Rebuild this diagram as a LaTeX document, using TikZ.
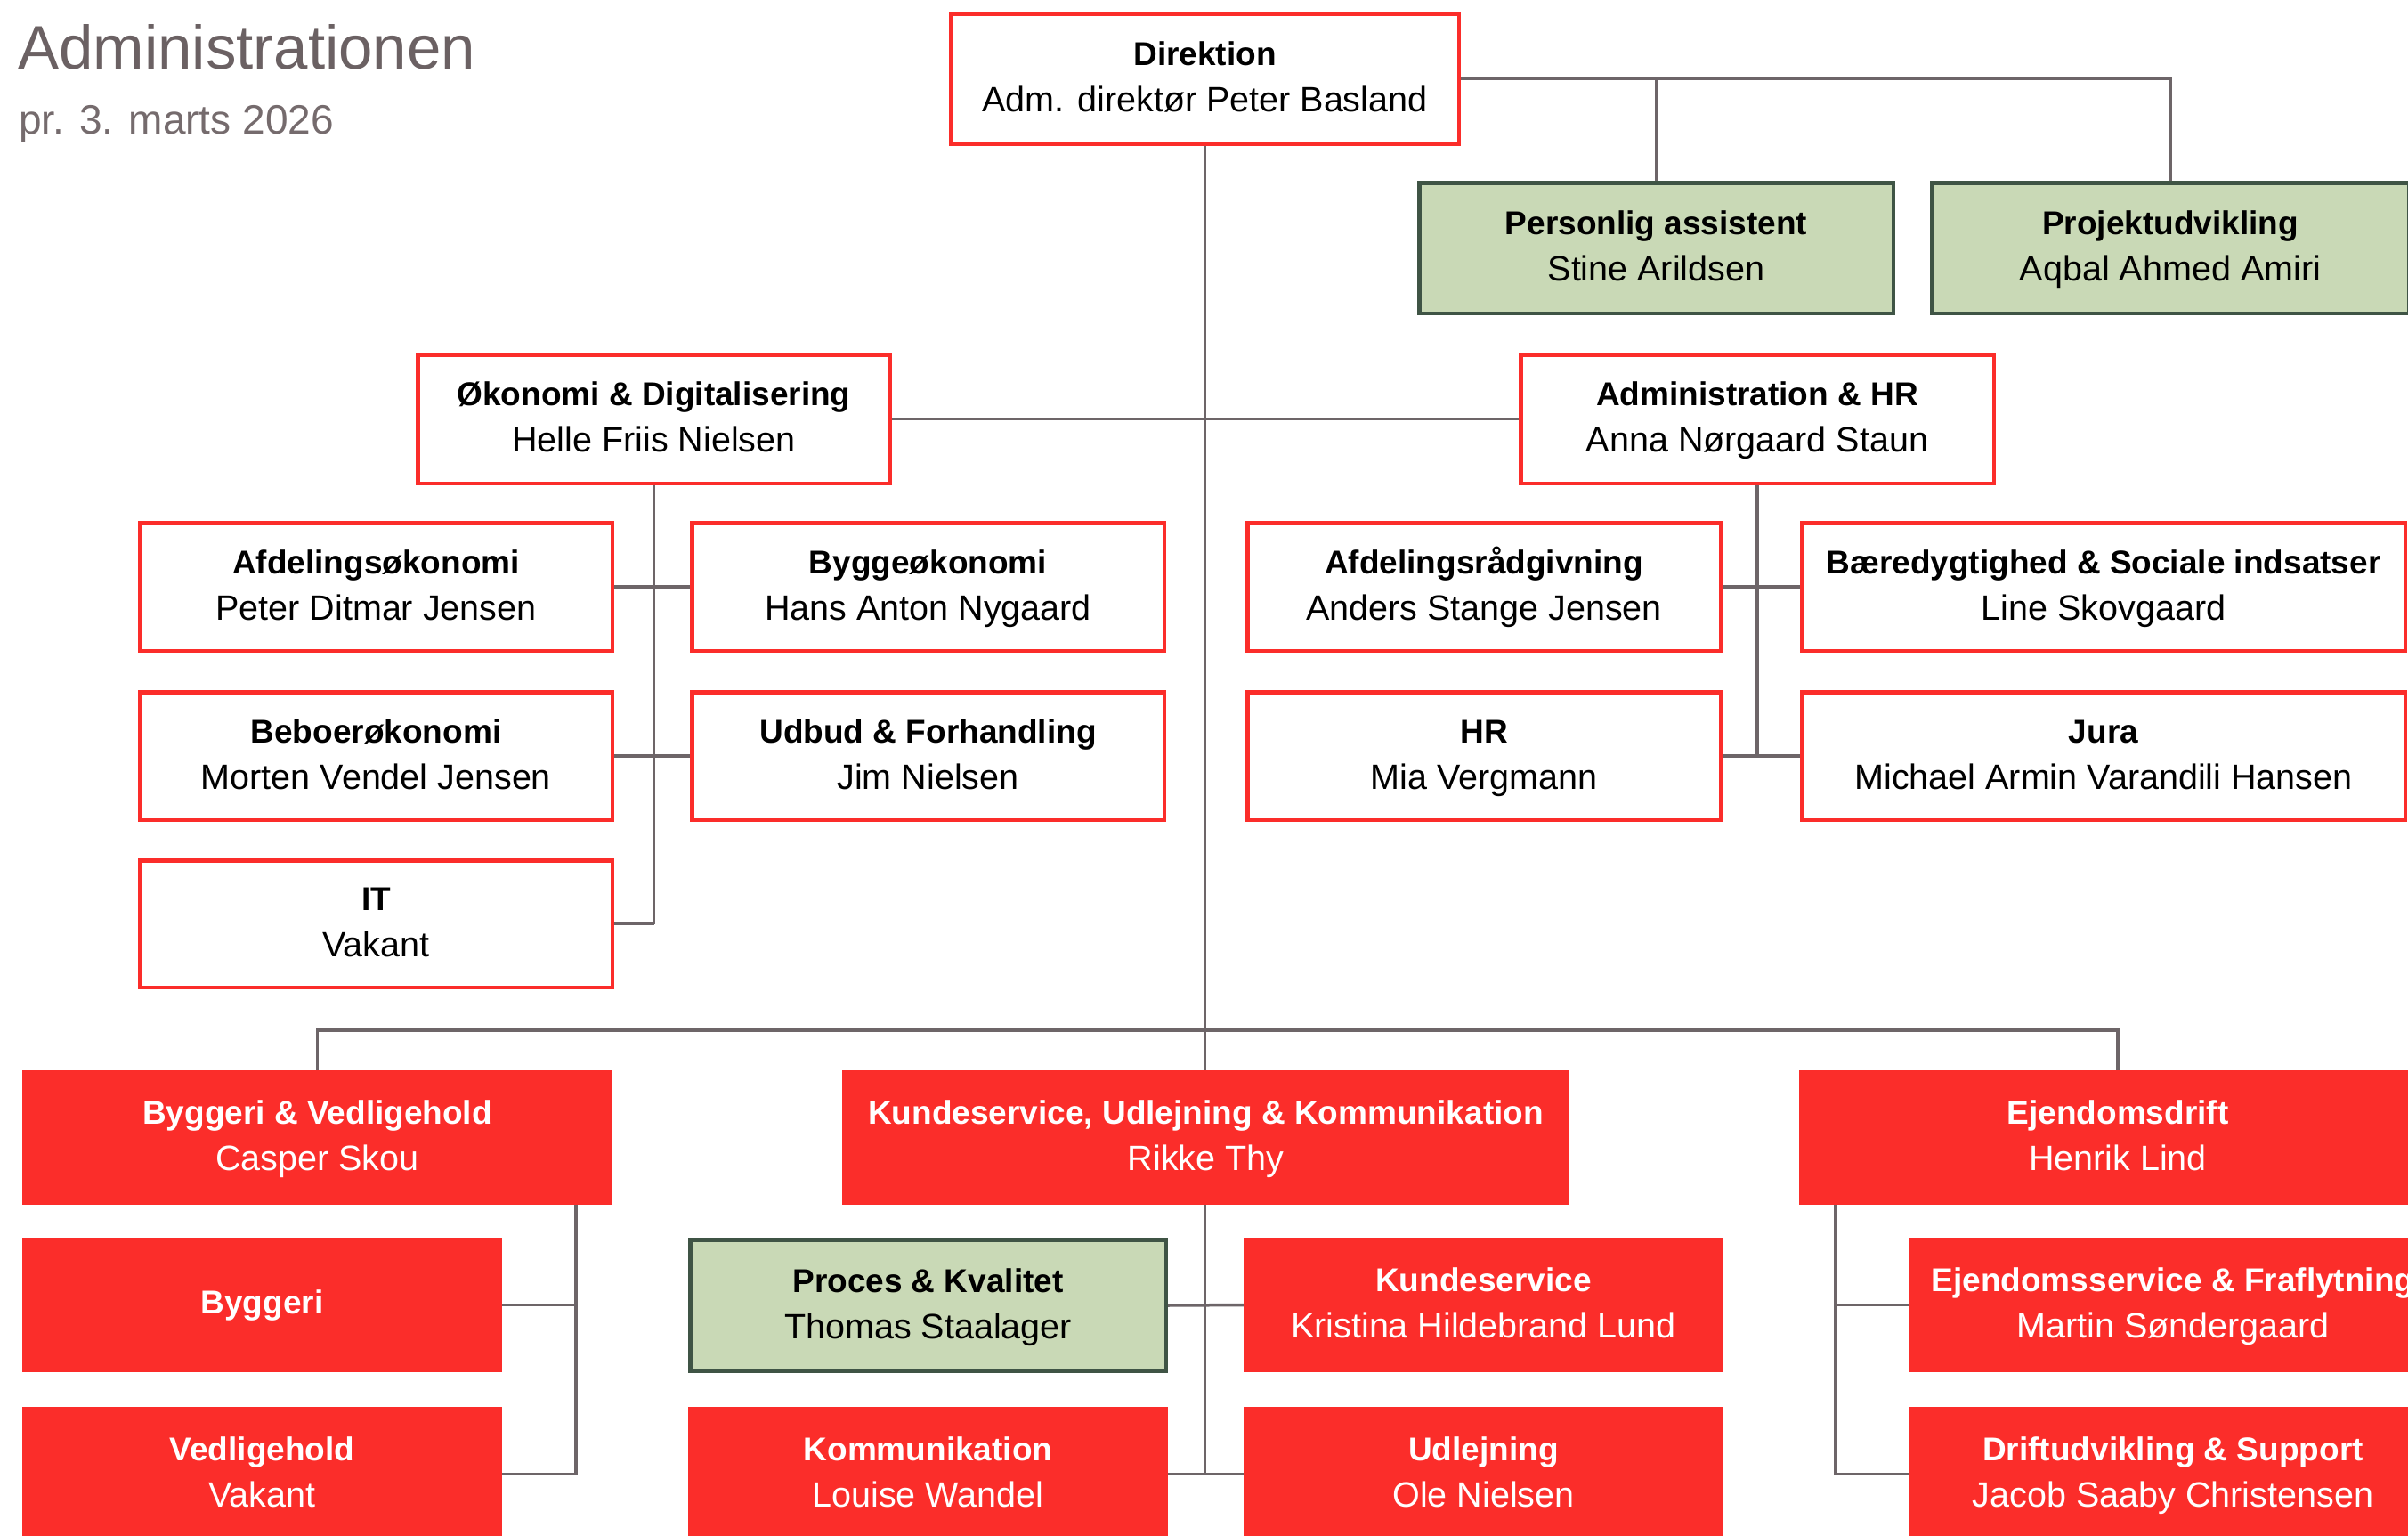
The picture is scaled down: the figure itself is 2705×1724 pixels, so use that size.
\documentclass[tikz,border=0pt]{standalone}
\usepackage{fontspec}
\setmainfont{Liberation Sans}
\usetikzlibrary{calc}
\pgfdeclarelayer{bg}
\pgfsetlayers{bg,main}
\definecolor{orgred}{HTML}{FB2D2A}
\definecolor{lineg}{HTML}{6D6568}
\definecolor{pale}{HTML}{C9D9B6}
\definecolor{darkg}{HTML}{3F5445}
\definecolor{titleg}{HTML}{6B6163}
\definecolor{subg}{HTML}{756B6D}
\tikzset{
  conn/.style={draw=lineg, line width=3.5pt},
  outlinebox/.style={draw=orgred, fill=white, line width=4.5pt, inner sep=0pt, outer sep=0pt},
  greenbox/.style={draw=darkg, fill=pale, line width=4.5pt, inner sep=0pt, outer sep=0pt},
  redbox/.style={draw=orgred, fill=orgred, line width=4.5pt, inner sep=0pt, outer sep=0pt},
  headtxt/.style={font=\fontsize{37}{44}\selectfont\bfseries, anchor=base, inner sep=0pt},
  nametxt/.style={font=\fontsize{39.5}{47}\selectfont, anchor=base, inner sep=0pt},
}
% #1 name, #2 style, #3 x1, #4 y1, #5 x2, #6 y2, #7 heading, #8 person, #9 text colour
\newcommand\orgbox[9]{%
  \pgfmathsetmacro\obw{#5-#3-4.5}%
  \pgfmathsetmacro\obh{#6-#4-4.5}%
  \node[#2, minimum width=\obw pt, minimum height=\obh pt] (#1) at ({(#3+#5)/2},{(#4+#6)/2}) {};
  \node[headtxt, text=#9] (#1-h) at ($(#1.center)+(0,-15)$) {#7};
  \node[nametxt, text=#9] (#1-n) at ($(#1.center)+(0,37)$) {#8};
}
\begin{document}
\begin{tikzpicture}[x=1pt, y=-1pt]
\useasboundingbox (0,0) rectangle (2705,1724);

% title
\node[anchor=base west, inner sep=0pt, font=\fontsize{69}{80}\selectfont, text=titleg] (title) at (20,77) {Administrationen};
\node[anchor=base west, inner sep=0pt, font=\fontsize{46}{55}\selectfont, text=subg] (subtitle) at (21,150) {pr. 3. marts 2026};

% level 0
\orgbox{dir}{outlinebox}{1066}{13}{1641}{164}{Direktion}{Adm. direktør Peter Basland}{black}
\orgbox{pa}{greenbox}{1592}{203}{2129}{354}{Personlig assistent}{Stine Arildsen}{black}
\orgbox{pu}{greenbox}{2168}{203}{2708}{354}{Projektudvikling}{Aqbal Ahmed Amiri}{black}

% level 1
\orgbox{oek}{outlinebox}{467}{396}{1002}{545}{Økonomi \& Digitalisering}{Helle Friis Nielsen}{black}
\orgbox{ahr}{outlinebox}{1706}{396}{2242}{545}{Administration \& HR}{Anna Nørgaard Staun}{black}

% Økonomi children
\orgbox{afo}{outlinebox}{155}{585}{690}{733}{Afdelingsøkonomi}{Peter Ditmar Jensen}{black}
\orgbox{byo}{outlinebox}{775}{585}{1310}{733}{Byggeøkonomi}{Hans Anton Nygaard}{black}
\orgbox{beo}{outlinebox}{155}{775}{690}{923}{Beboerøkonomi}{Morten Vendel Jensen}{black}
\orgbox{udf}{outlinebox}{775}{775}{1310}{923}{Udbud \& Forhandling}{Jim Nielsen}{black}
\orgbox{it}{outlinebox}{155}{964}{690}{1111}{IT}{Vakant}{black}

% Administration children
\orgbox{afr}{outlinebox}{1399}{585}{1935}{733}{Afdelingsrådgivning}{Anders Stange Jensen}{black}
\orgbox{bsi}{outlinebox}{2022}{585}{2704}{733}{Bæredygtighed \& Sociale indsatser}{Line Skovgaard}{black}
\orgbox{hr}{outlinebox}{1399}{775}{1935}{923}{HR}{Mia Vergmann}{black}
\orgbox{jura}{outlinebox}{2022}{775}{2704}{923}{Jura}{Michael Armin Varandili Hansen}{black}

% bottom heads
\orgbox{bv}{redbox}{25}{1202}{688}{1353}{Byggeri \& Vedligehold}{Casper Skou}{white}
\orgbox{kuk}{redbox}{946}{1202}{1763}{1353}{Kundeservice, Udlejning \& Kommunikation}{Rikke Thy}{white}
\orgbox{ed}{redbox}{2021}{1202}{2737}{1353}{Ejendomsdrift}{Henrik Lind}{white}

% Byggeri children
\node[redbox, minimum width=534.5pt, minimum height=146.5pt] (byg) at ({(25+564)/2},{(1390+1541)/2}) {};
\node[headtxt, text=white] (byg-h) at ($(byg.center)+(0,10)$) {Byggeri};
\orgbox{ved}{redbox}{25}{1580}{564}{1731}{Vedligehold}{Vakant}{white}

% KUK children
\orgbox{pk}{greenbox}{773}{1390}{1312}{1542}{Proces \& Kvalitet}{Thomas Staalager}{black}
\orgbox{ks}{redbox}{1397}{1390}{1936}{1541}{Kundeservice}{Kristina Hildebrand Lund}{white}
\orgbox{kom}{redbox}{773}{1580}{1312}{1731}{Kommunikation}{Louise Wandel}{white}
\orgbox{udl}{redbox}{1397}{1580}{1936}{1731}{Udlejning}{Ole Nielsen}{white}

% Ejendomsdrift children
\orgbox{esf}{redbox}{2145}{1390}{2737}{1541}{Ejendomsservice \& Fraflytning}{Martin Søndergaard}{white}
\orgbox{dus}{redbox}{2145}{1580}{2737}{1731}{Driftudvikling \& Support}{Jacob Saaby Christensen}{white}

% connectors
\coordinate (bus) at (0,1157);
\coordinate (bvx) at (647,0);
\coordinate (edx) at (2062,0);
\begin{pgfonlayer}{bg}
\fill[white] (0,0) rectangle (2705,1724);
\draw[conn] (dir.south) -- (dir.south |- kuk.north);
\draw[conn] (dir.east) -| (pu.north);
\draw[conn] (pa.north) -- (pa.north |- dir.east);
\draw[conn] (oek.east) -- (ahr.west);
\draw[conn] (oek.south) -- (oek.south |- it.east);
\draw[conn] (afo.east) -- (byo.west);
\draw[conn] (beo.east) -- (udf.west);
\draw[conn] (it.east) -- (oek.south |- it.east);
\draw[conn] (ahr.south) -- (ahr.south |- hr.east);
\draw[conn] (afr.east) -- (bsi.west);
\draw[conn] (hr.east) -- (jura.west);
\draw[conn] (bv.north) -- (bv.north |- bus) -- (ed.north |- bus) -- (ed.north);
\draw[conn] (bvx |- bv.south) -- (bvx |- ved.east) -- (ved.east);
\draw[conn] (byg.east) -- (bvx |- byg.east);
\draw[conn] (dir.south |- kuk.south) -- (dir.south |- kom.east);
\draw[conn] (pk.east) -- (ks.west);
\draw[conn] (kom.east) -- (udl.west);
\draw[conn] (edx |- ed.south) -- (edx |- dus.west) -- (dus.west);
\draw[conn] (esf.west) -- (edx |- esf.west);
\end{pgfonlayer}
\end{tikzpicture}
\end{document}
